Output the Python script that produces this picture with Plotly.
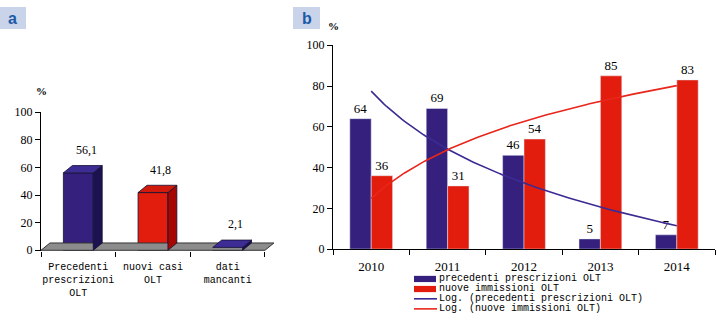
import numpy as np
import plotly.graph_objects as go

# ---------------- data ----------------
a_categories = ["Precedenti<br>prescrizioni<br>OLT", "nuovi casi<br>OLT", "dati<br>mancanti"]
a_values = [56.1, 41.8, 2.1]
a_labels = ["56,1", "41,8", "2,1"]

b_years = ["2010", "2011", "2012", "2013", "2014"]
b_precedenti = [64, 69, 46, 5, 7]
b_nuove = [36, 31, 54, 85, 83]

y_ticks = [0, 20, 40, 60, 80, 100]

# ---------------- style ----------------
BLUE = "#35217d"
BLUE_SIDE = "#1d1250"
BLUE_TOP = "#3e2c95"
RED = "#e31d0e"
RED_SIDE = "#a50802"
RED_TOP = "#cf1a0c"
SERIF = "Liberation Serif"
MONO = "Liberation Mono"
W, H = 717, 324

fig = go.Figure()

# ---------------- panel b trend lines (drawn first, under the bars) ----------------
xb = np.arange(1, len(b_years) + 1)
xt = np.linspace(1, len(b_years), 120)
for series, col in ((b_precedenti, "#3b2b93"), (b_nuove, "#e8261b")):
    b_coef, a_coef = np.polyfit(np.log(xb), series, 1)  # y = a + b ln x
    fig.add_trace(go.Scatter(
        x=xt, y=a_coef + b_coef * np.log(xt), mode="lines", line=dict(color=col, width=1.6),
        xaxis="x2", yaxis="y2", showlegend=False, hoverinfo="skip"))

# ---------------- panel a (pseudo 3D bars) ----------------
xa = np.arange(len(a_values)) + 0.5
bw = 0.4
dx, dy = 0.12, 5.3
a_front = [BLUE, RED, BLUE]
a_side = [BLUE_SIDE, RED_SIDE, BLUE_SIDE]
a_top = [BLUE_TOP, RED_TOP, BLUE_TOP]
n = len(a_values)

# floor
fig.add_trace(go.Scatter(
    x=[0, n, n + dx, dx, 0], y=[0, 0, dy, dy, 0], mode="lines", fill="toself",
    fillcolor="#8c8c8c", line=dict(color="#333333", width=1),
    xaxis="x", yaxis="y", hoverinfo="skip", showlegend=False))

for i, v in enumerate(a_values):
    x0, x1 = xa[i] - bw / 2, xa[i] + bw / 2
    # side face
    fig.add_trace(go.Scatter(
        x=[x1, x1 + dx, x1 + dx, x1, x1], y=[0, dy, v + dy, v, 0], mode="lines",
        fill="toself", fillcolor=a_side[i], line=dict(color="#111133", width=0.8),
        xaxis="x", yaxis="y", hoverinfo="skip", showlegend=False))
    # top face
    fig.add_trace(go.Scatter(
        x=[x0, x1, x1 + dx, x0 + dx, x0], y=[v, v, v + dy, v + dy, v], mode="lines",
        fill="toself", fillcolor=a_top[i], line=dict(color="#111133", width=0.8),
        xaxis="x", yaxis="y", hoverinfo="skip", showlegend=False))

fig.add_trace(go.Bar(
    x=xa, y=a_values, width=bw, marker=dict(color=a_front, line=dict(color="#111133", width=0.8)),
    xaxis="x", yaxis="y", showlegend=False, hoverinfo="skip"))

for i, v in enumerate(a_values):
    fig.add_annotation(x=xa[i], y=v, xref="x", yref="y", text=a_labels[i], showarrow=False,
                       xanchor="center", yanchor="middle",
                       xshift=8, yshift=23, font=dict(family=SERIF, size=12, color="black"))

# ---------------- panel b bars ----------------
fig.add_trace(go.Bar(
    x=xb, y=b_precedenti, marker_color=BLUE, name="precedenti prescrizioni OLT",
    text=[str(v) for v in b_precedenti], textposition="outside",
    textfont=dict(family=SERIF, size=13, color="black"),
    xaxis="x2", yaxis="y2", showlegend=False, cliponaxis=False))
fig.add_trace(go.Bar(
    x=xb, y=b_nuove, marker_color=RED, name="nuove immissioni OLT",
    text=[str(v) for v in b_nuove], textposition="outside",
    textfont=dict(family=SERIF, size=13, color="black"),
    xaxis="x2", yaxis="y2", showlegend=False, cliponaxis=False))

# ---------------- layout ----------------
def px_x(p):
    return p / W


def px_y(p):
    return 1 - p / H


tickfont = dict(family=SERIF, size=12, color="black")
fig.update_layout(
    width=W, height=H, margin=dict(l=0, r=0, t=0, b=0),
    paper_bgcolor="white", plot_bgcolor="white",
    barmode="group", bargap=0.44, bargroupgap=0,
    showlegend=False,
    xaxis=dict(domain=[px_x(41), px_x(274)], range=[0, n + dx + 0.001], showgrid=False, zeroline=False,
               showline=False, tickmode="array", tickvals=list(xa), ticktext=a_categories,
               ticks="", ticklabelstandoff=8, tickfont=dict(family=MONO, size=10, color="black"),
               minor=dict(tickmode="array", tickvals=list(range(n + 1)), ticks="outside",
                          ticklen=5, tickcolor="black", tickwidth=1, showgrid=False),
               fixedrange=True),
    yaxis=dict(domain=[px_y(255), px_y(110)], range=[-0.5, 100], showgrid=False, zeroline=False,
               showline=True, linecolor="black", linewidth=1, tickvals=y_ticks,
               ticks="outside", ticklen=5, tickcolor="black", tickfont=tickfont),
    xaxis2=dict(domain=[px_x(333), px_x(715)], range=[0.5, len(b_years) + 0.5], anchor="y2",
                showgrid=False, zeroline=False, showline=True, linecolor="black", linewidth=1,
                tickmode="array", tickvals=list(xb), ticktext=b_years, ticks="", ticklabelstandoff=5,
                tickfont=dict(family=SERIF, size=13, color="black"),
                minor=dict(tickmode="array", tickvals=[v + 0.5 for v in range(len(b_years) + 1)],
                           ticks="outside", ticklen=5, tickcolor="black", tickwidth=1, showgrid=False)),
    yaxis2=dict(domain=[px_y(253), px_y(40)], range=[0, 100], anchor="x2", showgrid=False,
                zeroline=False, showline=True, linecolor="black", linewidth=1, tickvals=y_ticks,
                ticks="outside", ticklen=5, tickcolor="black", tickfont=tickfont),
)

# panel tags
for x0, x1, letter in ((0, 26, "a"), (293, 320, "b")):
    fig.add_shape(type="rect", xref="paper", yref="paper", x0=px_x(x0), x1=px_x(x1),
                  y0=px_y(23), y1=px_y(0), fillcolor="#c9d3ea", line=dict(width=0), layer="below")
    fig.add_annotation(xref="paper", yref="paper", x=px_x((x0 + x1) / 2), y=px_y(11.5),
                       xanchor="center", yanchor="middle", text="<b>%s</b>" % letter,
                       showarrow=False, font=dict(family="Liberation Sans", size=16, color="#1c5aa6"))

# percent labels
fig.add_annotation(xref="paper", yref="paper", x=px_x(41), y=px_y(88), text="<b>%</b>", showarrow=False,
                   xanchor="center", yanchor="middle", font=dict(family=SERIF, size=11, color="black"))
fig.add_annotation(xref="paper", yref="paper", x=px_x(333), y=px_y(20), text="<b>%</b>", showarrow=False,
                   xanchor="center", yanchor="middle", font=dict(family=SERIF, size=11, color="black"))

# legend of panel b (drawn manually to match compact layout)
legend_items = [
    ("bar", BLUE, "precedenti prescrizioni OLT", 284),
    ("bar", RED, "nuove immissioni OLT", 294.5),
    ("line", "#3b2b93", "Log. (precedenti prescrizioni OLT)", 305),
    ("line", "#e8261b", "Log. (nuove immissioni OLT)", 315.5),
]
for kind, col, label, yc in legend_items:
    if kind == "bar":
        fig.add_shape(type="rect", xref="paper", yref="paper", x0=px_x(414), x1=px_x(436),
                      y0=px_y(yc + 3.5), y1=px_y(yc - 3), fillcolor=col, line=dict(width=0))
    else:
        fig.add_shape(type="line", xref="paper", yref="paper", x0=px_x(414), x1=px_x(437),
                      y0=px_y(yc), y1=px_y(yc), line=dict(color=col, width=1.6))
    fig.add_annotation(xref="paper", yref="paper", x=px_x(437), y=px_y(yc), xanchor="left",
                       yanchor="middle", text=label, showarrow=False,
                       font=dict(family=MONO, size=10, color="black"))

fig.write_html("out.html")
